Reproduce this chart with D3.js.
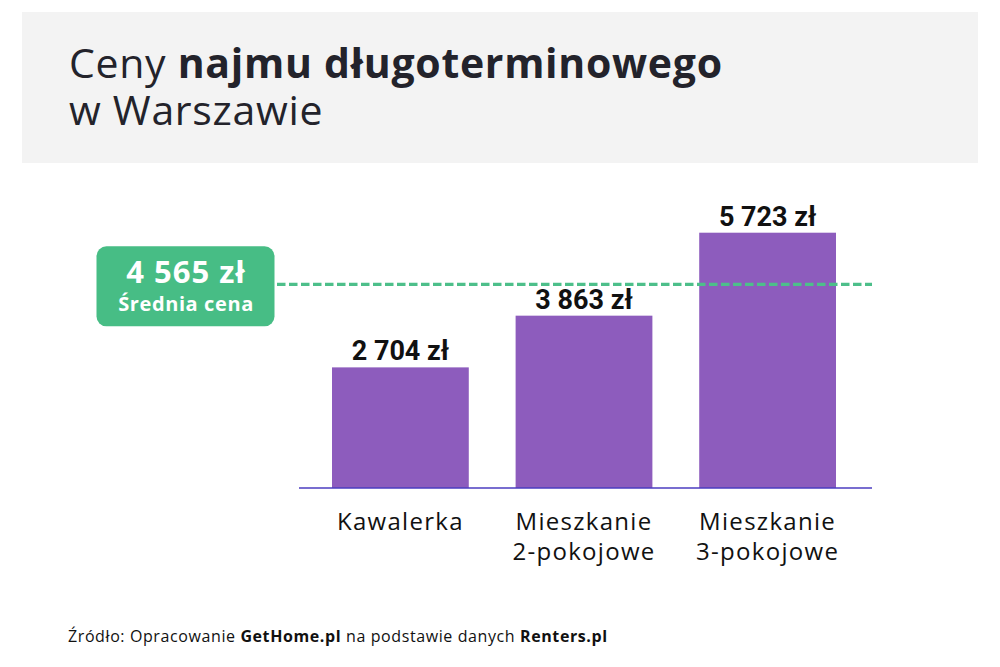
<!DOCTYPE html>
<html>
<head>
<meta charset="utf-8">
<script src="https://cdn.jsdelivr.net/npm/d3@7"></script>
<style>
  html, body { margin: 0; padding: 0; background: #ffffff; }
  svg { display: block; }
</style>
</head>
<body>
<div id="chart"></div>
<script>
// ---- data ----
const categories = ["Kawalerka", "Mieszkanie 2-pokojowe", "Mieszkanie 3-pokojowe"];
const categoryLines = [["Kawalerka"], ["Mieszkanie", "2-pokojowe"], ["Mieszkanie", "3-pokojowe"]];
const values = [2704, 3863, 5723];
const valueLabels = ["2 704 zł", "3 863 zł", "5 723 zł"];
const averageValue = 4565;
const averageLabel = "4 565 zł";
const averageCaption = "Średnia cena";
const titleRegular = "Ceny ";
const titleBold = "najmu długoterminowego";
const titleLine2 = "w Warszawie";

const W = 1000, H = 667;
const FONT = "'Open Sans', sans-serif";

const svg = d3.select("#chart").append("svg")
  .attr("width", W).attr("height", H)
  .attr("viewBox", `0 0 ${W} ${H}`);

// header
svg.append("rect").attr("x", 22).attr("y", 12).attr("width", 956).attr("height", 151).attr("fill", "#f3f3f3");
const t1 = svg.append("text").attr("x", 69).attr("y", 78)
  .attr("font-family", FONT).attr("font-size", 41).attr("letter-spacing", 0.7).attr("fill", "#23232b");
t1.append("tspan").attr("font-weight", 400).text(titleRegular);
t1.append("tspan").attr("font-weight", 700).text(titleBold);
t1.append("tspan").attr("x", 69).attr("dy", 47).attr("font-weight", 400).text(titleLine2);

// scales
const x = d3.scaleBand().domain(categories).range([332, 836]).paddingInner(0.255).paddingOuter(0);
const y = d3.scaleLinear().domain([0, 5723]).range([488, 232.7]);

// bars
svg.append("g").selectAll("rect").data(values).join("rect")
  .attr("x", (d, i) => x(categories[i]))
  .attr("y", d => y(d))
  .attr("width", x.bandwidth())
  .attr("height", d => y(0) - y(d))
  .attr("fill", "#8d5cbd");

// value labels
svg.append("g").selectAll("text").data(values).join("text")
  .attr("x", (d, i) => x(categories[i]) + x.bandwidth() / 2)
  .attr("y", d => y(d) - 7)
  .attr("text-anchor", "middle")
  .attr("font-family", "Roboto, sans-serif").attr("font-weight", 700).attr("font-size", 27)
  .attr("fill", "#111111")
  .text((d, i) => valueLabels[i]);

// baseline
svg.append("line").attr("x1", 299).attr("x2", 872).attr("y1", y(0)).attr("y2", y(0))
  .attr("stroke", "#4b3cc0").attr("stroke-width", 1.5);

// x axis labels
const xAxis = d3.axisBottom(x).tickSize(0).tickFormat(() => "");
const gx = svg.append("g").attr("transform", `translate(0,${y(0)})`).call(xAxis);
gx.select(".domain").remove();
gx.selectAll(".tick").each(function(d, i) {
  const t = d3.select(this).append("text")
    .attr("text-anchor", "middle")
    .attr("font-family", FONT).attr("font-size", 24).attr("letter-spacing", 1.3).attr("fill", "#111111");
  categoryLines[i].forEach((line, j) => {
    t.append("tspan").attr("x", 0).attr("y", 42 + j * 30).text(line);
  });
});

// average line
svg.append("line").attr("x1", 277).attr("x2", 872).attr("y1", y(averageValue)).attr("y2", y(averageValue))
  .attr("stroke", "#4dbf8a").attr("stroke-width", 3.2).attr("stroke-dasharray", "8.5,3.5");

// average badge
const by = y(averageValue);
svg.append("rect").attr("x", 96.5).attr("y", by - 38).attr("width", 178).attr("height", 80)
  .attr("rx", 10).attr("fill", "#47bd85");
svg.append("text").attr("x", 186).attr("y", by - 1).attr("text-anchor", "middle")
  .attr("font-family", FONT).attr("font-weight", 700).attr("font-size", 31).attr("letter-spacing", 1).attr("fill", "#ffffff")
  .text(averageLabel);
svg.append("text").attr("x", 186).attr("y", by + 27).attr("text-anchor", "middle")
  .attr("font-family", FONT).attr("font-weight", 700).attr("font-size", 20).attr("letter-spacing", 0.6).attr("fill", "#ffffff")
  .text(averageCaption);

// source
const src = svg.append("text").attr("x", 68).attr("y", 642)
  .attr("font-family", FONT).attr("font-size", 16).attr("letter-spacing", 0.6).attr("fill", "#111111");
src.append("tspan").text("Źródło: Opracowanie ");
src.append("tspan").attr("font-weight", 700).text("GetHome.pl");
src.append("tspan").text(" na podstawie danych ");
src.append("tspan").attr("font-weight", 700).text("Renters.pl");
</script>
</body>
</html>
